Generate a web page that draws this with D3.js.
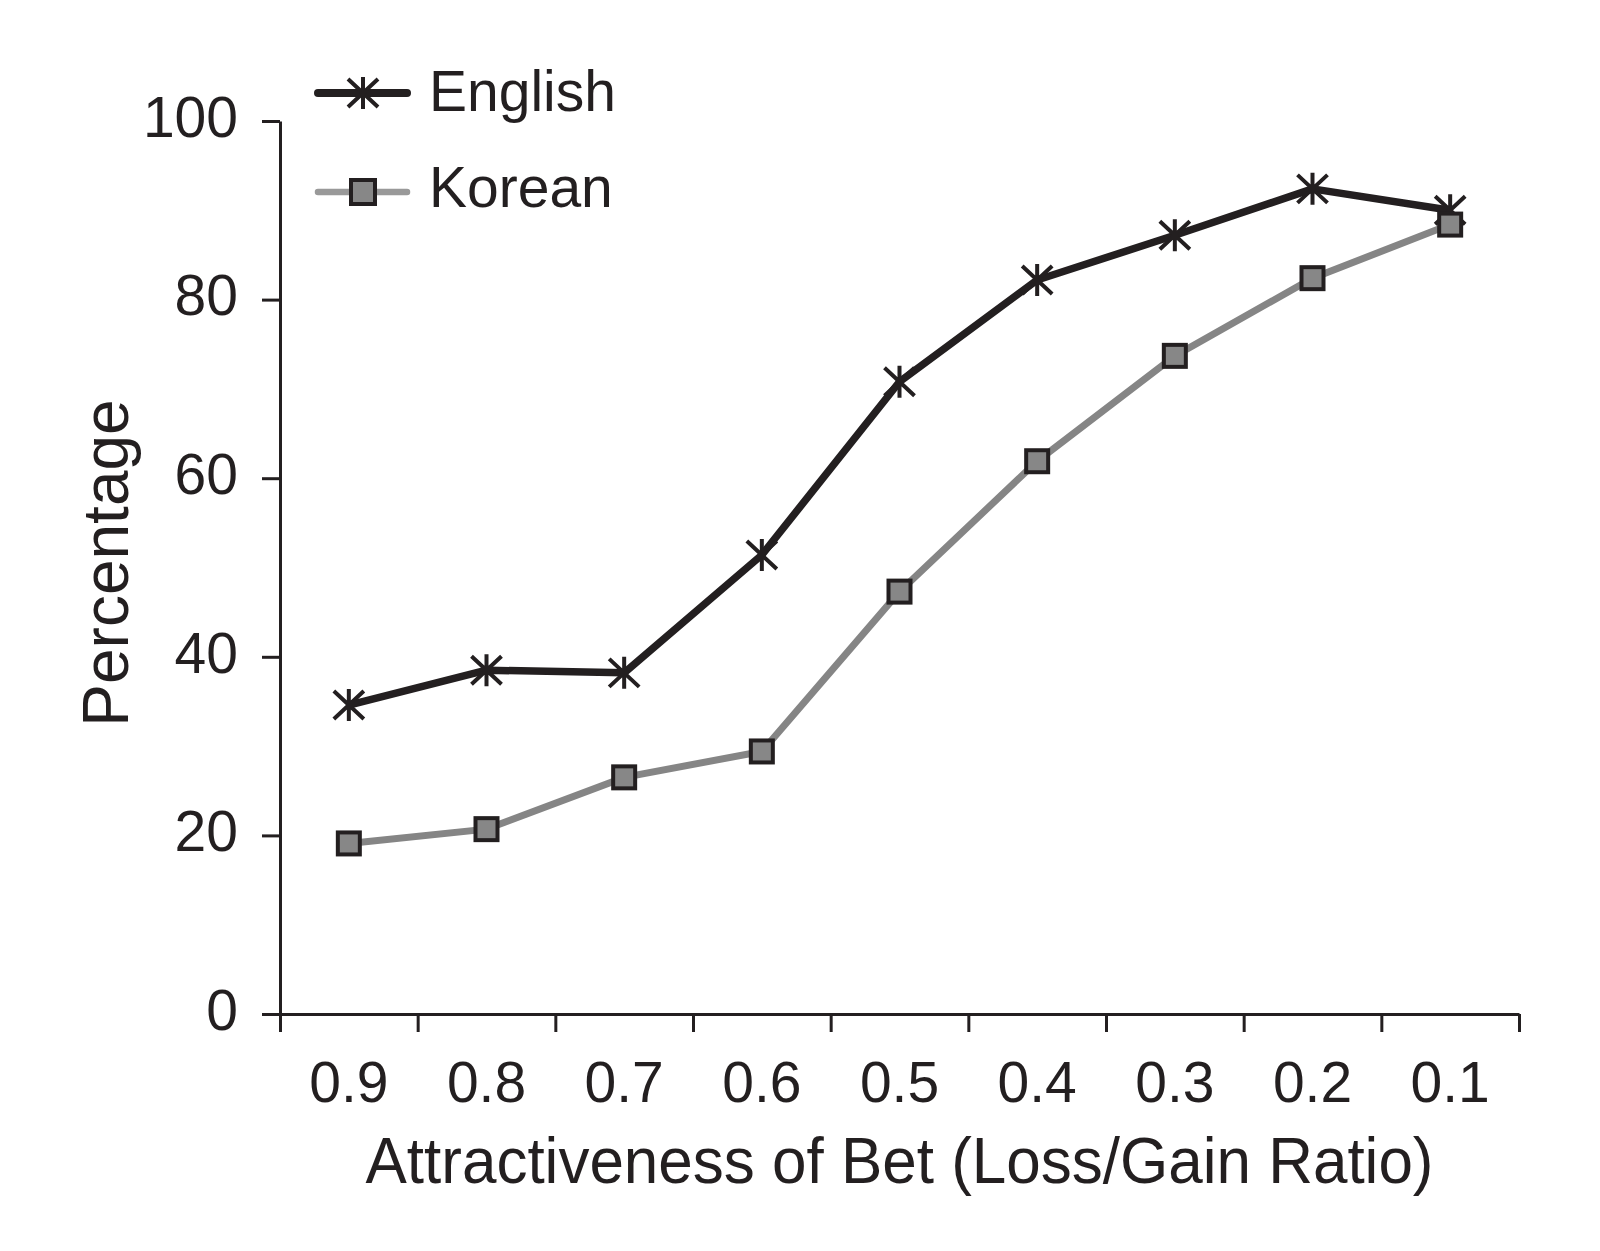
<!DOCTYPE html>
<html lang="en">
<head>
    <meta charset="UTF-8">
    <script src="https://d3js.org/d3.v7.min.js"></script>
    <title>Attractiveness of Bet</title>
    <style>
        body { margin: 0; background: #fff; }
        text { font-family: "Liberation Sans", Arial, sans-serif; fill: #231f20; }
        .axis path, .axis line { stroke: #231f20; stroke-width: 3px; }
    </style>
</head>
<body>
    <svg width="1600" height="1251"></svg>
    <script>
        // values
        var categories = ["0.9", "0.8", "0.7", "0.6", "0.5", "0.4", "0.3", "0.2", "0.1"];
        var english = [34.6, 38.5, 38.2, 51.4, 70.8, 82.2, 87.2, 92.4, 90.0];
        var korean = [19.1, 20.7, 26.5, 29.4, 47.3, 61.9, 73.7, 82.4, 88.4];
        var yTicks = [0, 20, 40, 60, 80, 100];
        var seriesNames = ["English", "Korean"];

        // plot edges ("top" is reserved on window, so use other names)
        var plotLeft = 280, plotRight = 1519, plotTop = 121, plotBottom = 1014;
        var svg = d3.select("svg");

        var x = d3.scaleBand().domain(categories).range([plotLeft, plotRight]);
        var xEdge = d3.scaleLinear().domain([0, categories.length]).range([plotLeft, plotRight]);
        var y = d3.scaleLinear().domain([0, 100]).range([plotBottom, plotTop]);

        // y axis
        var yAxis = svg.append("g").attr("class", "axis")
            .attr("transform", "translate(" + plotLeft + ",0)")
            .call(d3.axisLeft(y).tickValues(yTicks).tickSize(18).tickSizeOuter(0).tickPadding(24));
        yAxis.selectAll("text").style("font-size", "57px").attr("dy", "0.27em");

        // x axis: ticks on band edges, labels at band centres
        svg.append("g").attr("class", "axis")
            .attr("transform", "translate(0," + plotBottom + ")")
            .call(d3.axisBottom(xEdge).tickValues(d3.range(categories.length + 1))
                .tickSize(18).tickSizeOuter(0).tickFormat(""));
        var xLab = svg.append("g")
            .attr("transform", "translate(0," + plotBottom + ")")
            .call(d3.axisBottom(x).tickSize(0).tickPadding(48));
        xLab.select(".domain").remove();
        xLab.selectAll("text").style("font-size", "57px");

        // axis titles
        svg.append("text")
            .attr("x", (plotLeft + plotRight) / 2).attr("y", 1183)
            .attr("text-anchor", "middle")
            .attr("textLength", 1068).attr("lengthAdjust", "spacingAndGlyphs")
            .style("font-size", "64px")
            .text("Attractiveness of Bet (Loss/Gain Ratio)");
        svg.append("text")
            .attr("transform", "translate(128,563) rotate(-90)")
            .attr("text-anchor", "middle")
            .style("font-size", "64px")
            .text("Percentage");

        var cx = i => x(categories[i]) + x.bandwidth() / 2;
        var line = d3.line()
            .x((d, i) => cx(i))
            .y(d => y(d));

        var starPath = "M0,-16V16M-15,-14L15,14M-15,14L15,-14";

        // Korean
        svg.append("path").datum(korean)
            .attr("d", line).attr("fill", "none")
            .attr("stroke", "#858585").attr("stroke-width", 7);

        // English
        svg.append("path").datum(english)
            .attr("d", line).attr("fill", "none")
            .attr("stroke", "#231f20").attr("stroke-width", 7.5)
            .attr("stroke-linejoin", "round");

        svg.append("g").selectAll("path")
            .data(english)
            .enter().append("path")
            .attr("transform", (d, i) => "translate(" + cx(i) + "," + y(d) + ")")
            .attr("d", starPath)
            .attr("stroke", "#231f20").attr("stroke-width", 4).attr("fill", "none");

        svg.append("g").selectAll("rect")
            .data(korean)
            .enter().append("rect")
            .attr("x", (d, i) => cx(i) - 11)
            .attr("y", d => y(d) - 11)
            .attr("width", 22).attr("height", 22)
            .attr("fill", "#878787").attr("stroke", "#231f20").attr("stroke-width", 4);

        // legend
        var legend = svg.append("g");
        var legY = [93, 192];
        legend.append("line").attr("x1", 318).attr("x2", 407).attr("y1", legY[0]).attr("y2", legY[0])
            .attr("stroke", "#231f20").attr("stroke-width", 8).attr("stroke-linecap", "round");
        legend.append("path").attr("transform", "translate(363," + legY[0] + ")")
            .attr("d", starPath).attr("stroke", "#231f20").attr("stroke-width", 4).attr("fill", "none");
        legend.append("line").attr("x1", 318).attr("x2", 407).attr("y1", legY[1]).attr("y2", legY[1])
            .attr("stroke", "#999").attr("stroke-width", 6.5).attr("stroke-linecap", "round");
        legend.append("rect").attr("x", 363 - 12).attr("y", legY[1] - 12)
            .attr("width", 24).attr("height", 24)
            .attr("fill", "#878787").attr("stroke", "#231f20").attr("stroke-width", 4);
        legend.selectAll("text")
            .data(seriesNames)
            .enter().append("text")
            .attr("x", 429).attr("y", (d, i) => legY[i] + (i === 0 ? 18 : 15))
            .style("font-size", "57px")
            .text(d => d);
    </script>
</body>
</html>
